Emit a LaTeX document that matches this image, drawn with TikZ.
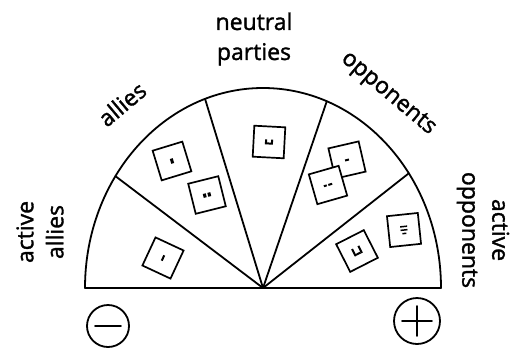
\documentclass[tikz,border=0pt]{standalone}
\usepackage{fontspec}
\setmainfont{Open Sans}
\newfontfamily\handfont{Open Sans}[FakeBold=1.4]
\usetikzlibrary{positioning,calc}
\newcommand{\stickynote}[5]{%
  \node[notebox,rotate=#4] (#1) at (#2,#3) {#5};
}
\newcommand{\tick}[2]{\rule{#1pt}{#2pt}}

\begin{document}
\begin{tikzpicture}[x=1pt,y=-1pt,
    outline/.style={line width=1.8pt,line join=round,line cap=round},
    notebox/.style={draw,fill=white,line width=1.7pt,minimum size=31pt,inner sep=0pt},
    lbl/.style={font=\handfont\fontsize{23}{30}\selectfont,align=center,inner sep=0pt},
    sign/.style={draw,circle,line width=1.8pt,minimum size=42pt,inner sep=0pt}]
  \useasboundingbox (0,0) rectangle (526,353);
  % ---------- fan ----------
  \coordinate (hub) at (263,288);
  \draw[outline] ($(hub)+(-178pt,0pt)$) arc[start angle=180,end angle=0,x radius=178pt,y radius=200pt] -- cycle;
  \foreach \a in {35,69,109,146}{
    \draw[outline] (hub) -- ($(hub)+(\a:178pt and 200pt)$);}
  % ---------- notes ----------
  \stickynote{aa1}{163}{258}{-25}{\tick{2}{6}}
  \stickynote{al1}{172}{161}{17}{\tick{3}{5}}
  \stickynote{al2}{207}{195}{14}{\tick{3}{4}\,\tick{3}{4}}
  \stickynote{ne1}{269}{142}{-3}{\tick{2}{5}\tick{4}{2}\tick{2}{5}}
  \stickynote{op1}{347}{160}{13}{\tick{4}{2}}
  \stickynote{op2}{328}{185}{16}{\tick{3}{2}\,\tick{4}{2}}
  \stickynote{ao1}{357}{251}{27}{\tick{2}{8}\tick{5}{2}\tick{2}{8}}
  \stickynote{ao2}{404}{230}{6}{\shortstack{\tick{7}{1.5}\\[-1pt]\tick{7}{1.5}\\[-1pt]\tick{4}{1.5}}}
  % ---------- labels ----------
  \node[lbl,rotate=90] (activeallies) at (40,232) {active\\allies};
  \node[lbl,rotate=40] (allies) at (122,104) {allies};
  \node[lbl] (neutral) at (254,39) {neutral\\parties};
  \node[lbl,rotate=-40] (opponents) at (388,94) {opponents};
  \node[lbl,rotate=-90] (activeopponents) at (483,230) {active\\opponents};
  % ---------- signs ----------
  \node[sign] (minus) at (108,326) {};
  \draw[outline] ([xshift=9pt]minus.west) -- ([xshift=-9pt]minus.east);
  \node[sign,minimum size=46pt] (plus) at (417,321) {};
  \draw[outline] ([xshift=9pt]plus.west) -- ([xshift=-9pt]plus.east);
  \draw[outline] ([yshift=-9pt]plus.north) -- ([yshift=9pt]plus.south);
\end{tikzpicture}
\end{document}
